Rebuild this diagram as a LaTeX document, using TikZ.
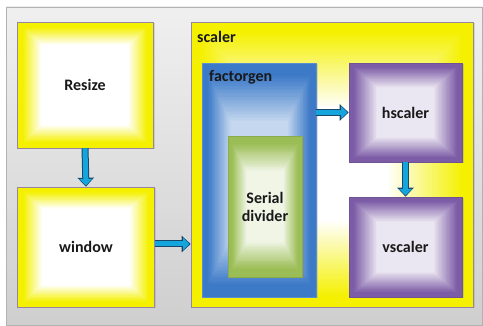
\documentclass[tikz,border=0pt]{standalone}
\usepackage{fontspec}
\setmainfont{Carlito}
\usetikzlibrary{calc,arrows.meta,shadows}

\definecolor{boxyellow}{RGB}{244,240,0}
\definecolor{boxblue}{RGB}{60,122,200}
\definecolor{boxgreen}{RGB}{155,189,85}
\definecolor{boxpurple}{RGB}{124,92,166}
\definecolor{boxedge}{RGB}{150,135,160}
\definecolor{flowcyan}{RGB}{20,165,220}
\definecolor{flowdark}{RGB}{25,70,105}
\definecolor{labeltext}{RGB}{25,25,25}

\tikzset{
  gradbox/.style n args={4}{rectangle, inner sep=0pt, fill=#1, draw=boxedge, line width=.6pt,
    text=labeltext, font=\fontsize{16}{18}\selectfont\bfseries,
    drop shadow={opacity=.25,shadow xshift=1.5pt,shadow yshift=-1.5pt},
    path picture={
      \foreach \k [evaluate=\k as \t using #3+(#4-#3)*\k/30,
                   evaluate=\k as \p using 100*\k/30] in {0,...,30}
        \fill[#2!\p!#1]
          ($(path picture bounding box.south west)!\t!(path picture bounding box.center)$)
          rectangle
          ($(path picture bounding box.north east)!\t!(path picture bounding box.center)$);
    }},
  caption/.style={inner sep=0pt, text=labeltext, font=\fontsize{16}{18}\selectfont\bfseries},
  flow/.style={line width=5pt, draw=flowcyan, shorten >=1.2pt,
    -{Triangle[length=6.5pt,width=12.5pt]},
    preaction={draw=flowdark, line width=7pt, shorten >=0pt, -{Triangle[length=9pt,width=16pt]}}}
}

\begin{document}
\begin{tikzpicture}[x=1pt,y=-1pt]
  \useasboundingbox (0,0) rectangle (483,326);
  % board
  \draw[gray!60, top color=gray!12, bottom color=gray!38] (6,7) rectangle (482,325);

  % left column
  \node[gradbox={boxyellow}{white}{0.08}{0.36}, minimum width=136pt, minimum height=126pt] (resize) at (85,85) {Resize};
  \node[gradbox={boxyellow}{white}{0.08}{0.36}, minimum width=137pt, minimum height=120pt] (window) at (86,247) {window};

  % scaler and its parts
  \node[gradbox={boxyellow}{white}{0.06}{0.6}, minimum width=282pt, minimum height=285pt] (scaler) at (332,164.5) {};
  \node[caption, anchor=base west] (scalerlbl) at (197,43) {scaler};
  \node[gradbox={boxblue}{white!70!boxblue}{0.1}{0.5}, draw=boxblue!85!white, minimum width=114pt, minimum height=234pt] (factorgen) at (259,180) {};
  \node[caption, anchor=base west] (factorgenlbl) at (209,82) {factorgen};
  \node[gradbox={boxgreen}{white!85!boxgreen}{0.1}{0.5}, draw=boxgreen!90!black, minimum width=74pt, minimum height=141pt, align=center] (divider) at (265,206.5) {Serial\\divider};
  \node[gradbox={boxpurple}{white!85!boxpurple}{0.08}{0.5}, draw=boxpurple!90!black, minimum width=113pt, minimum height=99pt] (hscaler) at (405.5,112.5) {hscaler};
  \node[gradbox={boxpurple}{white!85!boxpurple}{0.08}{0.5}, draw=boxpurple!90!black, minimum width=113pt, minimum height=100pt] (vscaler) at (405.5,247) {vscaler};

  % data flow
  \draw[flow] (resize.south) -- (window.north);
  \draw[flow] ([yshift=3pt]window.east) -- ([yshift=3pt]window.east -| scaler.west);
  \draw[flow] (factorgen.east |- hscaler.west) -- (hscaler.west);
  \draw[flow] (hscaler.south) -- (vscaler.north);
\end{tikzpicture}
\end{document}
